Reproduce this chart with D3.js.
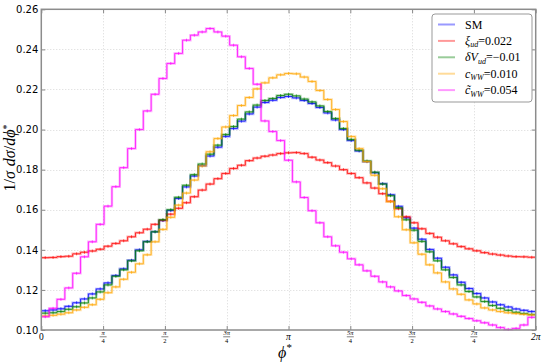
<!DOCTYPE html>
<html>
<head>
<meta charset="utf-8">
<script src="https://cdn.jsdelivr.net/npm/d3@7"></script>
<style>
  body { margin: 0; background: #fff; }
  svg { display: block; }
</style>
</head>
<body>
<svg width="545" height="363"></svg>
<script>
// 63 bins over [0, 2pi]
const phiRange = [0, 2 * Math.PI];
const yTicks = [0.10, 0.12, 0.14, 0.16, 0.18, 0.20, 0.22, 0.24, 0.26];
const xTickNums = [0, 1, 2, 3, 4, 5, 6, 7, 8]; // multiples of pi/4
const xTickLabels = [["0"], ["π", "4"], ["π", "2"], ["3π", "4"], ["π"], ["5π", "4"], ["3π", "2"], ["7π", "4"], ["2π"]];

const sm = [
  0.1096, 0.1100, 0.1106, 0.1118, 0.1136, 0.1155, 0.1180, 0.1205, 0.1235, 0.1272,
  0.1305, 0.1348, 0.1400, 0.1442, 0.1490, 0.1546, 0.1596, 0.1656, 0.1714, 0.1768,
  0.1820, 0.1868, 0.1912, 0.1966, 0.2005, 0.2042, 0.2078, 0.2112, 0.2135, 0.2146,
  0.2160, 0.2165, 0.2158, 0.2145, 0.2130, 0.2110, 0.2083, 0.2048, 0.2000, 0.1945,
  0.1893, 0.1840, 0.1785, 0.1730, 0.1675, 0.1617, 0.1560, 0.1508, 0.1453, 0.1402,
  0.1358, 0.1313, 0.1275, 0.1238, 0.1207, 0.1182, 0.1160, 0.1140, 0.1126, 0.1115,
  0.1105, 0.1098, 0.1092
];
const xiUd = [
  0.1361, 0.1362, 0.1366, 0.1368, 0.1380, 0.1388, 0.1394, 0.1403, 0.1418, 0.1432,
  0.1445, 0.1465, 0.1485, 0.1503, 0.1527, 0.1548, 0.1578, 0.1607, 0.1635, 0.1665,
  0.1698, 0.1728, 0.1755, 0.1781, 0.1806, 0.1822, 0.1845, 0.1858, 0.1867, 0.1873,
  0.1880, 0.1884, 0.1885, 0.1880, 0.1862, 0.1848, 0.1835, 0.1818, 0.1800, 0.1781,
  0.1760, 0.1734, 0.1708, 0.1680, 0.1642, 0.1605, 0.1565, 0.1535, 0.1505, 0.1482,
  0.1463, 0.1445, 0.1430, 0.1416, 0.1405, 0.1395, 0.1386, 0.1379, 0.1374, 0.1369,
  0.1366, 0.1365, 0.1363
];
const dVud = [
  0.1084, 0.1086, 0.1092, 0.1103, 0.1116, 0.1135, 0.1160, 0.1190, 0.1225, 0.1268,
  0.1300, 0.1345, 0.1395, 0.1440, 0.1490, 0.1550, 0.1600, 0.1662, 0.1722, 0.1775,
  0.1828, 0.1877, 0.1922, 0.1975, 0.2015, 0.2052, 0.2088, 0.2122, 0.2145, 0.2155,
  0.2170, 0.2176, 0.2168, 0.2152, 0.2138, 0.2118, 0.2090, 0.2055, 0.2005, 0.1950,
  0.1897, 0.1843, 0.1787, 0.1728, 0.1670, 0.1610, 0.1550, 0.1498, 0.1442, 0.1390,
  0.1345, 0.1300, 0.1262, 0.1225, 0.1192, 0.1165, 0.1142, 0.1122, 0.1108, 0.1098,
  0.1088, 0.1082, 0.1077
];
const cWW = [
  0.1070, 0.1073, 0.1079, 0.1086, 0.1100, 0.1113, 0.1126, 0.1153, 0.1186, 0.1215,
  0.1253, 0.1288, 0.1330, 0.1375, 0.1440, 0.1502, 0.1562, 0.1623, 0.1683, 0.1748,
  0.1818, 0.1889, 0.1955, 0.2013, 0.2070, 0.2120, 0.2160, 0.2203, 0.2233, 0.2258,
  0.2273, 0.2280, 0.2278, 0.2262, 0.2240, 0.2195, 0.2150, 0.2100, 0.2040, 0.1965,
  0.1905, 0.1840, 0.1772, 0.1705, 0.1640, 0.1565, 0.1500, 0.1435, 0.1378, 0.1325,
  0.1285, 0.1240, 0.1205, 0.1178, 0.1150, 0.1130, 0.1110, 0.1100, 0.1092, 0.1086,
  0.1082, 0.1078, 0.1075
];
const cWWtilde = [
  0.1066, 0.1108, 0.1153, 0.1210, 0.1283, 0.1365, 0.1440, 0.1527, 0.1618, 0.1715,
  0.1810, 0.1905, 0.2000, 0.2093, 0.2176, 0.2255, 0.2330, 0.2380, 0.2446, 0.2471,
  0.2487, 0.2504, 0.2487, 0.2466, 0.2421, 0.2363, 0.2305, 0.2226, 0.2043, 0.1990,
  0.1945, 0.1847, 0.1739, 0.1661, 0.1595, 0.1535, 0.1465, 0.1420, 0.1388, 0.1355,
  0.1325, 0.1295, 0.1268, 0.1240, 0.1215, 0.1195, 0.1172, 0.1155, 0.1138, 0.1120,
  0.1105, 0.1092, 0.1080, 0.1068, 0.1057, 0.1046, 0.1036, 0.1025, 0.1012, 0.1003,
  0.1008, 0.1025, 0.1063
];

const series = [
  { key: "SM", values: sm, color: "#0000ff" },
  { key: "xi", values: xiUd, color: "#ff0000" },
  { key: "dV", values: dVud, color: "#008000" },
  { key: "cww", values: cWW, color: "#ffa500" },
  { key: "cwwt", values: cWWtilde, color: "#ff00ff" }
];

const layout = { left: 41.3, right: 535.7, top: 9.3, bottom: 330 };
const serif = "'Liberation Serif', 'DejaVu Serif', serif";

const svg = d3.select("svg");
const x = d3.scaleLinear().domain(phiRange).range([layout.left, layout.right]);
const y = d3.scaleLinear().domain([0.10, 0.26]).range([layout.bottom, layout.top]);
const nBins = sm.length;
const binW = (phiRange[1] - phiRange[0]) / nBins;

// grid
const grid = svg.append("g").attr("stroke", "#d8d8d8").attr("stroke-dasharray", "1,2").attr("stroke-width", 1);
yTicks.slice(1, -1).forEach((t) => {
  grid.append("line").attr("x1", layout.left).attr("x2", layout.right)
    .attr("y1", Math.round(y(t)) + 0.5).attr("y2", Math.round(y(t)) + 0.5);
});
xTickNums.slice(1, -1).forEach((k) => {
  grid.append("line").attr("y1", layout.top).attr("y2", layout.bottom)
    .attr("x1", Math.round(x(k * Math.PI / 4)) + 0.5).attr("x2", Math.round(x(k * Math.PI / 4)) + 0.5);
});

// histograms: pale wide band + thin line + small error ticks at bin centres
const plot = svg.append("g");
series.forEach((s) => {
  const pts = s.values.map((v, i) => [i * binW, v]);
  pts.push([nBins * binW, s.values[nBins - 1]]);
  const line = d3.line().x((d) => x(d[0])).y((d) => y(d[1])).curve(d3.curveStepAfter);
  plot.append("path").datum(pts).attr("fill", "none").attr("stroke", s.color)
    .attr("stroke-opacity", 0.3).attr("stroke-width", 2.5).attr("d", line);
  plot.append("path").datum(pts).attr("fill", "none").attr("stroke", s.color)
    .attr("stroke-opacity", 0.85).attr("stroke-width", 0.9).attr("d", line);
  plot.selectAll(null).data(s.values).enter().append("line")
    .attr("x1", (d, i) => x((i + 0.5) * binW)).attr("x2", (d, i) => x((i + 0.5) * binW))
    .attr("y1", (d) => y(d) - 1.5).attr("y2", (d) => y(d) + 1.5)
    .attr("stroke", s.color).attr("stroke-opacity", 0.8).attr("stroke-width", 0.8);
});

// axes (ticks inward on all sides)
const tickColor = "#888";
const xt = xTickNums.map((k) => k * Math.PI / 4);
const styleAxis = (g) => {
  g.select(".domain").remove();
  g.selectAll("line").attr("stroke", tickColor);
};
svg.append("g").attr("transform", `translate(0,${layout.bottom})`)
  .call(d3.axisBottom(x).tickValues(xt).tickSize(-4).tickFormat("")).call(styleAxis);
svg.append("g").attr("transform", `translate(0,${layout.top})`)
  .call(d3.axisTop(x).tickValues(xt).tickSize(-4).tickFormat("")).call(styleAxis);
svg.append("g").attr("transform", `translate(${layout.right},0)`)
  .call(d3.axisRight(y).tickValues(yTicks).tickSize(-4).tickFormat("")).call(styleAxis);
svg.append("g").attr("transform", `translate(${layout.left},0)`)
  .call(d3.axisLeft(y).tickValues(yTicks).tickSize(-4).tickPadding(3).tickFormat(d3.format(".2f")))
  .call(styleAxis)
  .call((g) => g.selectAll("text").attr("font-family", "'DejaVu Sans', sans-serif")
    .attr("font-size", 10).attr("fill", "#000"));

// frame
svg.append("rect").attr("x", layout.left).attr("y", layout.top)
  .attr("width", layout.right - layout.left).attr("height", layout.bottom - layout.top)
  .attr("fill", "none").attr("stroke", "#8c8c8c").attr("stroke-width", 1.5);

// x tick labels, fractions as in mathtext
const xl = svg.append("g").attr("font-family", serif).attr("fill", "#000").attr("text-anchor", "middle");
xTickLabels.forEach((lab, k) => {
  const cx = x(k * Math.PI / 4);
  if (lab.length === 1) {
    xl.append("text").attr("x", cx).attr("y", 340).attr("font-size", 9.5)
      .attr("font-style", lab[0] === "0" ? "normal" : "italic").text(lab[0]);
  } else {
    xl.append("text").attr("x", cx).attr("y", 335).attr("font-size", 6.5).attr("font-style", "italic").text(lab[0]);
    xl.append("line").attr("x1", cx - 3.5).attr("x2", cx + 3.5).attr("y1", 336.8).attr("y2", 336.8)
      .attr("stroke", "#000").attr("stroke-width", 0.5);
    xl.append("text").attr("x", cx).attr("y", 343).attr("font-size", 6.5).text(lab[1]);
  }
});

// axis labels
const xlab = svg.append("text").attr("x", 285).attr("y", 358).attr("font-family", serif)
  .attr("font-size", 16).attr("text-anchor", "middle").attr("font-style", "italic");
xlab.append("tspan").text("ϕ");
xlab.append("tspan").attr("dy", -7).attr("font-size", 11).attr("font-style", "normal").text("*");

const ylab = svg.append("text").attr("transform", "translate(15,158) rotate(-90)")
  .attr("font-family", serif).attr("font-size", 16).attr("text-anchor", "middle");
ylab.append("tspan").text("1/");
ylab.append("tspan").attr("font-style", "italic").text("σ");
ylab.append("tspan").attr("dx", 5).attr("font-style", "italic").text("dσ");
ylab.append("tspan").text("/");
ylab.append("tspan").attr("font-style", "italic").text("dϕ");
ylab.append("tspan").attr("dy", -5).attr("font-size", 10).text("*");

// legend
const legend = svg.append("g");
legend.append("rect").attr("x", 432).attr("y", 14).attr("width", 100).attr("height", 88)
  .attr("rx", 3).attr("fill", "#fff").attr("stroke", "#999").attr("stroke-width", 1);
const legendRows = [
  { main: "SM", italic: false },
  { main: "ξ", sub: "ud", rest: "=0.022", italic: true },
  { main: "δV", sub: "ud", rest: "=−0.01", italic: true },
  { main: "c", sub: "WW", rest: "=0.010", italic: true },
  { main: "c\u0303", sub: "WW", rest: "=0.054", italic: true }
];
legendRows.forEach((r, i) => {
  const ly = 24.5 + i * 16.4;
  legend.append("line").attr("x1", 438).attr("x2", 455).attr("y1", ly).attr("y2", ly)
    .attr("stroke", series[i].color).attr("stroke-opacity", 0.4).attr("stroke-width", 2);
  const t = legend.append("text").attr("x", 465).attr("y", ly + 4).attr("font-family", serif).attr("font-size", 12);
  t.append("tspan").attr("font-style", r.italic ? "italic" : "normal").text(r.main);
  if (r.sub) {
    t.append("tspan").attr("font-style", "italic").attr("font-size", 8).attr("dy", 2.5).text(r.sub);
    t.append("tspan").attr("dy", -2.5).text(r.rest);
  }
});
</script>
</body>
</html>
